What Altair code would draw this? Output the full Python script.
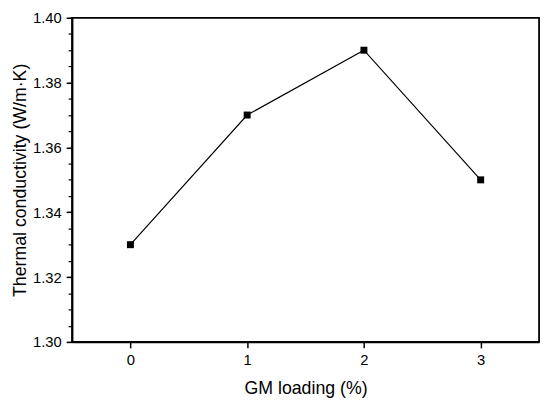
import altair as alt
import pandas as pd

loading = [0, 1, 2, 3]
conductivity = [1.33, 1.37, 1.39, 1.35]
y_major = [1.30, 1.32, 1.34, 1.36, 1.38, 1.40]
y_minor = [round(1.30 + 0.005 * i, 3) for i in range(21)]
x_ticks = [0, 1, 2, 3]

df = pd.DataFrame({"x": loading, "y": conductivity})

FONT = "Liberation Sans"
xscale = alt.Scale(domain=[-0.5, 3.5], nice=False, zero=False)
yscale = alt.Scale(domain=[1.30, 1.40], nice=False, zero=False)

common = dict(labelFont=FONT, titleFont=FONT, labelFontSize=15, titleFontSize=18,
              labelColor="black", titleColor="black", titleFontWeight="normal",
              grid=False, domainColor="black", domainWidth=1.8,
              tickColor="black", tickWidth=1.5, tickSize=6)

base = alt.Chart(df)

line = base.mark_line(color="black", strokeWidth=1.2).encode(
    x=alt.X("x:Q", scale=xscale, axis=alt.Axis(
        values=x_ticks, title="GM loading (%)", format="d",
        labelPadding=5, titlePadding=12, **common)),
    y=alt.Y("y:Q", scale=yscale, axis=alt.Axis(
        values=y_major, title="Thermal conductivity (W/m·K)", format=".2f",
        labelPadding=5, titlePadding=3, **common)),
)

pts = base.mark_square(color="black", size=50, opacity=1).encode(
    x=alt.X("x:Q", scale=xscale, axis=None),
    y=alt.Y("y:Q", scale=yscale, axis=alt.Axis(
        orient="left", values=y_minor, labels=False, title=None, tickSize=4,
        domain=False, grid=False, tickColor="black", tickWidth=1.2)),
)

chart = alt.layer(line, pts).resolve_axis(y="independent", x="independent").properties(
    width=474, height=329,
    autosize=alt.AutoSizeParams(type="none"),
    padding={"left": 65, "top": 7, "right": 3, "bottom": 56},
).configure_view(
    stroke="black", strokeWidth=1.8
)

chart.save("out.html", embed_options={"renderer": "svg", "actions": False})
